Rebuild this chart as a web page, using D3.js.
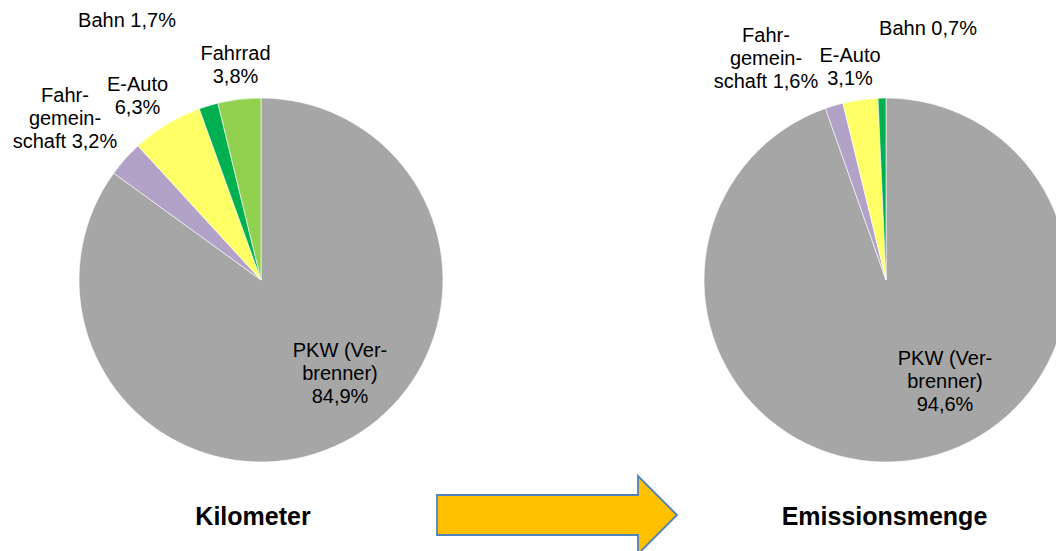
<!DOCTYPE html>
<html>
<head>
<meta charset="utf-8">
<script src="https://cdn.jsdelivr.net/npm/d3@7"></script>
<style>
  html, body { margin: 0; padding: 0; background: #fff; }
  svg { display: block; }
  text { font-family: "Liberation Sans", Arial, sans-serif; fill: #000; }
</style>
</head>
<body>
<svg id="chart" width="1056" height="551"></svg>
<script>
// ---- data ----
const categories = ["PKW (Verbrenner)", "Fahrgemeinschaft", "E-Auto", "Bahn", "Fahrrad"];
const kmValues = [84.9, 3.2, 6.3, 1.7, 3.8];
const emissionValues = [94.6, 1.6, 3.1, 0.7, 0];
const kmLabels = [["PKW (Ver-", "brenner)", "84,9%"], ["Fahr-", "gemein-", "schaft 3,2%"], ["E-Auto", "6,3%"], ["Bahn 1,7%"], ["Fahrrad", "3,8%"]];
const emissionLabels = [["PKW (Ver-", "brenner)", "94,6%"], ["Fahr-", "gemein-", "schaft 1,6%"], ["E-Auto", "3,1%"], ["Bahn 0,7%"], []];
const titles = ["Kilometer", "Emissionsmenge"];

// ---- layout / style ----
const colors = ["#A6A6A6", "#B3A2C7", "#FFFF66", "#00B050", "#92D050"];
const radius = 182;
const pies = [
  { cx: 261, cy: 280, values: kmValues, labels: kmLabels, title: titles[0], titleX: 253,
    offsets: [[79, 77], [-196, -178], [-123.5, -189], [-134, -253], [-25.5, -220]] },
  { cx: 886, cy: 280, values: emissionValues, labels: emissionLabels, title: titles[1], titleX: 884.5,
    offsets: [[59, 85], [-120, -238], [-36, -218], [42, -245], [0, 0]] }
];
const lineH = 23;

const svg = d3.select("#chart");
const color = d3.scaleOrdinal().domain(categories).range(colors);
const pie = d3.pie().sort(null).value(d => d.v).startAngle(0).endAngle(2 * Math.PI);
const arc = d3.arc().innerRadius(0).outerRadius(radius);

pies.forEach(p => {
  const data = categories.map((c, i) => ({ c, v: p.values[i], i }));
  const g = svg.append("g").attr("transform", `translate(${p.cx},${p.cy})`);
  g.selectAll("path")
    .data(pie(data).filter(d => d.data.v > 0))
    .join("path")
    .attr("d", arc)
    .attr("fill", d => color(d.data.c))
    .attr("stroke", "#fff")
    .attr("stroke-width", 0.6);

  const lg = g.append("g");
  data.forEach((d, i) => {
    const lines = p.labels[i];
    if (!lines.length) return;
    const t = lg.append("text")
      .attr("x", p.offsets[i][0])
      .attr("y", p.offsets[i][1])
      .attr("text-anchor", "middle")
      .attr("font-size", 20);
    lines.forEach((ln, k) => {
      t.append("tspan")
        .attr("x", p.offsets[i][0])
        .attr("dy", k === 0 ? 0 : lineH)
        .text(ln);
    });
  });

  svg.append("text")
    .attr("x", p.titleX)
    .attr("y", 525)
    .attr("text-anchor", "middle")
    .attr("font-size", 25)
    .attr("font-weight", "bold")
    .text(p.title);
});

// ---- arrow ----
const ap = d3.path();
ap.moveTo(437, 495);
ap.lineTo(638, 495);
ap.lineTo(638, 476);
ap.lineTo(677, 515);
ap.lineTo(638, 554);
ap.lineTo(638, 535);
ap.lineTo(437, 535);
ap.closePath();
svg.append("path")
  .attr("d", ap.toString())
  .attr("fill", "#FFC000")
  .attr("stroke", "#4F81BD")
  .attr("stroke-width", 1.8)
  .attr("stroke-linejoin", "miter");
</script>
</body>
</html>
